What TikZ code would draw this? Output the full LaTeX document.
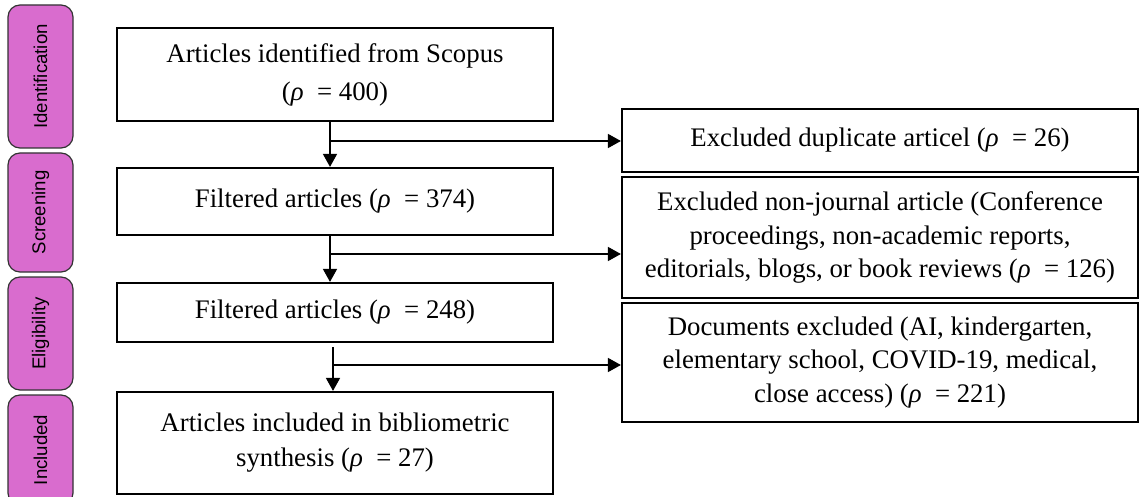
\documentclass[tikz,border=0pt]{standalone}
\usepackage{fontspec}
\setmainfont{Liberation Serif}
\newfontfamily\phasefont{Liberation Sans}
\usetikzlibrary{positioning}
\usetikzlibrary{arrows.meta}
\definecolor{phasepink}{RGB}{217,108,206}
\newcommand{\prho}{{\itshape ρ}\ \ }
\tikzset{
    stepbox/.style = {rectangle, draw=black, line width=1.1pt, align=center, inner sep=2pt, font=\fontsize{13.4}{16.8}\selectfont},
    exclbox/.style = {stepbox, minimum width=258pt},
    phase/.style = {rectangle, rounded corners=6pt, draw=black!80, line width=0.6pt, fill=phasepink, rotate=90, minimum height=32.5pt, font=\phasefont\fontsize{9.3}{11}\selectfont},
    edgen/.style = {-{Triangle[length=6.5pt,width=7pt]}, line width=0.8pt},
}
\begin{document}
\begin{tikzpicture}[x=0.5pt,y=-0.5pt]
  \clip (0,0) rectangle (1139,497);

  % phases
  \node[phase, minimum width=71.5pt] (pid) at (40.5,76.5) {Identification};
  \node[phase, minimum width=59.5pt] (psc) at (40.5,212.5) {Screening};
  \node[phase, minimum width=56.5pt] (pel) at (40.5,333.5) {Eligibility};
  \node[phase, minimum width=55pt]   (pin) at (40.5,450) {Included};

  % main flow
  \node[stepbox, minimum width=218pt, minimum height=46.5pt, font=\fontsize{13.4}{19}\selectfont] (b1) at (335,74.5)
    {Articles identified from Scopus\\(\prho= 400)};
  \node[stepbox, minimum width=218pt, minimum height=33.5pt] (b2) at (335,201.5) {Filtered articles (\prho= 374)};
  \node[stepbox, minimum width=218pt, minimum height=29.5pt] (b3) at (335,312.5) {Filtered articles (\prho= 248)};
  \node[stepbox, minimum width=218pt, minimum height=51pt, font=\fontsize{13.4}{17.5}\selectfont] (b4) at (335,443)
    {Articles included in bibliometric\\synthesis (\prho= 27)};

  % exclusions
  \node[exclbox, minimum height=31.5pt] (r1) at (880,140.5) {Excluded duplicate articel (\prho= 26)};
  \node[exclbox, minimum height=60.5pt] (r2) at (880,237.5)
    {Excluded non-journal article (Conference\\proceedings, non-academic reports,\\editorials, blogs, or book reviews (\prho= 126)};
  \node[exclbox, minimum height=59.5pt] (r3) at (880,362.5)
    {Documents excluded (AI, kindergarten,\\elementary school, COVID-19, medical,\\close access) (\prho= 221)};

  \coordinate (j1) at (330,141);
  \coordinate (j2) at (330,254);
  \coordinate (j3) at (333,365);

  \draw[edgen] (b1.south -| j1) -- (b2.north -| j1);
  \draw[edgen] (j1) -- (r1.west |- j1);
  \draw[edgen] (b2.south -| j2) -- (b3.north -| j2);
  \draw[edgen] (j2) -- (r2.west |- j2);
  \draw[edgen, shorten <=2pt] (b3.south -| j3) -- (b4.north -| j3);
  \draw[edgen] (j3) -- (r3.west |- j3);
\end{tikzpicture}
\end{document}
